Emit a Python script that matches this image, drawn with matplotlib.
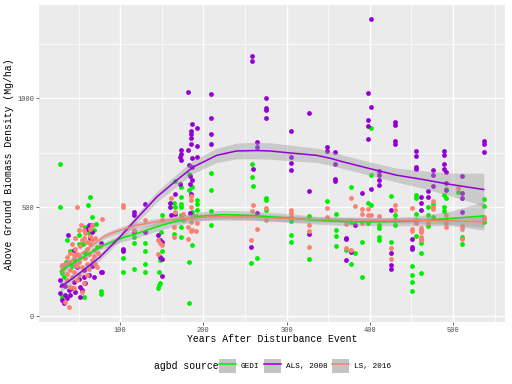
import matplotlib
matplotlib.use("Agg")
import matplotlib.pyplot as plt
from matplotlib.patches import Patch
from matplotlib.lines import Line2D
from matplotlib.legend_handler import HandlerTuple

plt.rcParams['font.family'] = ['Liberation Mono', 'DejaVu Sans Mono']

# ---- points: (years after disturbance, agbd Mg/ha) ----
gedi_pts = [
    (28,697),(28,501),(64,547),(61,512),(66,456),(71,425),(58,410),(51,371),(50,333),(72,315),
    (36,349),(30,196),(77,116),(77,101),(30,89),(56,89),(40,300),(45,260),(55,330),(62,380),
    (35,250),(42,230),(68,395),(33,180),(58,290),
    (104,269),(104,202),(117,364),(117,336),(117,215),(130,336),(130,299),(130,240),(130,202),
    (150,463),(150,299),(148,257),(147,202),(148,154),(147,142),(146,127),(149,388),
    (166,621),(173,593),(173,547),(165,517),(166,501),(173,513),(173,501),(192,535),(192,513),
    (192,486),(186,478),(173,463),(186,466),(183,651),(183,581),(186,593),(209,657),(209,581),
    (209,481),(209,417),(165,379),(173,364),(173,409),(186,328),(183,249),(183,58),
    (258,700),(258,638),(260,596),(275,543),(275,535),(275,486),(305,436),(327,460),(327,261),
    (265,268),(257,242),(305,372),(305,339),(349,527),(359,471),(359,394),(359,368),(359,324),
    (401,864),(401,647),(377,594),(426,553),(398,517),(401,511),(398,429),(430,464),(430,441),
    (377,433),(411,416),(411,406),(430,416),(371,303),(382,288),(377,237),(391,338),
    (411,364),(411,349),(426,338),(391,181),(451,231),(451,189),(451,158),(451,115),(456,556),
    (456,543),(461,288),(461,199),(456,471),(456,441),(456,369),
    (491,584),(489,555),(491,544),(476,514),(470,502),(489,499),(489,483),(476,453),(470,464),
    (470,413),(462,334),(506,571),(511,361),(511,330),(537,538),(537,505),(537,433),
]
als_pts = [
    (62,420),(66,417),(66,387),(37,371),(44,303),(77,336),(48,226),(56,211),(78,203),(28,165),
    (30,142),(44,157),(52,135),(56,180),(62,188),(69,180),(77,203),(28,104),(34,96),(40,96),
    (30,73),(36,81),(52,89),(32,58),(42,127),(60,400),(64,360),(50,170),(46,110),(38,120),
    (58,150),(66,230),(54,120),(34,140),
    (117,478),(117,463),(130,513),(117,387),(130,387),(104,310),(104,299),(146,371),(148,272),
    (150,264),(150,186),(148,350),(150,340),
    (182,1027),(209,1020),(209,911),(186,883),(192,865),(185,848),(185,835),(185,819),(209,835),
    (185,792),(192,780),(209,789),(173,761),(173,746),(172,731),(173,715),(182,761),(186,728),
    (192,731),(183,692),(186,685),(184,642),(186,627),(172,605),(184,608),(185,562),(166,562),
    (160,520),(160,501),(184,474),(166,468),(161,463),
    (258,1196),(258,1170),(275,1003),(275,956),(275,948),(275,910),(327,933),(305,850),(265,800),
    (265,774),(305,731),(305,705),(305,670),(260,673),(265,475),(327,575),(327,379),(257,318),
    (349,777),(349,758),
    (401,1363),(398,1023),(401,958),(398,900),(398,872),(398,814),(430,889),(430,878),(430,802),
    (430,789),(358,753),(358,699),(358,629),(358,620),(456,757),(456,734),(456,685),(456,675),
    (411,667),(411,650),(411,627),(411,601),(401,585),(391,566),(426,487),(382,418),(371,360),
    (371,352),(377,296),(371,257),(426,288),(426,234),(426,215),(451,352),(451,319),(451,308),
    (461,548),(461,517),(461,487),(470,574),(470,548),
    (489,759),(489,739),(489,697),(489,674),(491,661),(476,670),(476,647),(476,596),(537,804),
    (537,789),(537,754),(511,642),(511,563),(511,540),(511,479),(491,578),(491,609),
]
ls_pts = [
    (48,501),(78,445),(53,417),(64,402),(56,394),(54,349),(60,341),(66,349),(46,310),(48,287),
    (52,272),(60,310),(62,287),(68,303),(36,272),(30,234),(32,226),(40,211),(44,203),(60,241),
    (66,257),(72,226),(36,165),(40,135),(48,165),(54,112),(39,40),(34,66),(44,127),(50,188),
    (46,241),(42,330),(56,360),(64,330),(70,360),(58,265),(38,250),(50,250),(54,225),(62,215),
    (68,275),(74,290),(44,280),(52,320),(58,380),(46,360),(66,420),(36,195),(42,180),(56,150),
    (60,190),(30,210),(34,240),(70,240),(64,370),(50,395),(48,230),(40,290),(76,320),
    (104,501),(104,509),(130,440),(117,394),(150,443),(146,348),(148,336),(150,325),(146,287),
    (185,550),(161,543),(185,532),(185,501),(166,478),(173,452),(186,455),(191,458),(192,428),
    (191,391),(186,397),(165,409),(165,364),(185,432),(182,409),(185,391),(182,356),(176,470),
    (176,440),
    (260,509),(275,497),(258,482),(275,440),(305,486),(305,475),(305,456),(327,417),(327,391),
    (327,318),(265,400),(257,349),(349,498),(349,456),
    (377,543),(382,507),(391,490),(391,468),(398,490),(398,464),(401,464),(411,459),(430,510),
    (430,487),(371,423),(391,429),(371,314),(377,303),(426,312),(426,262),(451,494),(451,400),
    (451,390),(461,403),(461,387),(461,352),(456,426),
    (476,528),(476,502),(476,490),(491,464),(491,441),(470,428),(462,395),(462,364),(462,349),
    (491,428),(491,410),(506,586),(511,413),(511,402),(511,352),(537,453),(537,444),
]

# ---- smoothed fits (year, fit, half width of band) ----
gedi_fit_x = [28, 40, 56, 76, 100, 120, 144, 168, 196, 224, 256, 296, 336, 376, 416, 456, 496, 537]
gedi_fit_y = [203, 235, 272, 318, 356, 379, 410, 437, 458, 466, 462, 452, 440, 433, 433, 437, 448, 460]
gedi_fit_se = [22, 17, 14, 14, 18, 20, 20, 20, 20, 20, 20, 20, 18, 18, 18, 22, 32, 65]

als_fit_x = [28, 40, 56, 76, 100, 120, 144, 168, 188, 204, 216, 240, 264, 280, 304, 336, 352,
             368, 400, 432, 464, 496, 537]
als_fit_y = [134, 165, 211, 272, 364, 448, 547, 624, 685, 715, 738, 758, 760, 758, 749, 738, 725,
             708, 677, 647, 627, 605, 581]
als_fit_se = [25, 21, 18, 15, 17, 20, 24, 28, 30, 32, 33, 36, 38, 38, 36, 33, 32,
              31, 31, 32, 40, 52, 75]

ls_fit_x = [28, 38, 48, 64, 80, 90, 100, 120, 144, 176, 208, 256, 296, 336, 376, 416, 456, 496, 537]
ls_fit_y = [226, 248, 272, 318, 364, 381, 394, 417, 433, 448, 456, 455, 448, 443, 443, 440, 440, 437, 433]
ls_fit_se = [15, 12, 10, 10, 12, 14, 15, 15, 15, 15, 15, 15, 14, 12, 12, 12, 13, 16, 25]

SOURCES = ["GEDI", "ALS, 2008", "LS, 2016"]
COLORS = ["#00EE00", "#9400D3", "#FA8072"]

fig = plt.figure(figsize=(5.12, 3.84), dpi=100)
ax = fig.add_axes([39/512, 62/384, 466/512, 317/384])
ax.set_facecolor("#EBEBEB")
for s in ax.spines.values():
    s.set_visible(False)

ax.set_xlim(2.5, 562.5)
ax.set_ylim(-27, 1428)
ax.set_xticks([100, 200, 300, 400, 500])
ax.set_xticks([50, 150, 250, 350, 450, 550], minor=True)
ax.set_yticks([0, 500, 1000])
ax.set_yticks([250, 750, 1250], minor=True)
ax.grid(which="major", color="white", linewidth=1.0)
ax.grid(which="minor", color="white", linewidth=0.5)
ax.set_axisbelow(True)
ax.tick_params(which="major", length=2, width=0.5, color="#333333",
               labelsize=5, labelcolor="#4D4D4D", pad=1.5)
ax.tick_params(which="minor", length=0)

for pts, c in zip([gedi_pts, als_pts, ls_pts], COLORS):
    ax.scatter([p[0] for p in pts], [p[1] for p in pts], s=12, color=c,
               linewidths=0, zorder=2)

fits = [(gedi_fit_x, gedi_fit_y, gedi_fit_se),
        (als_fit_x, als_fit_y, als_fit_se),
        (ls_fit_x, ls_fit_y, ls_fit_se)]
for (fx, fy, fse), c in zip(fits, COLORS):
    lo = [y - e for y, e in zip(fy, fse)]
    hi = [y + e for y, e in zip(fy, fse)]
    ax.fill_between(fx, lo, hi, color="#999999", alpha=0.4, linewidth=0, zorder=3)
    ax.plot(fx, fy, color=c, linewidth=1.1, zorder=4, solid_joinstyle="round")

fig.text(272/512, 45/384, "Years After Disturbance Event", fontsize=7,
         ha="center", va="center")
fig.text(9/512, 220/384, "Above Ground Biomass Density (Mg/ha)", fontsize=7,
         ha="center", va="center", rotation=90)

fig.text(154/512, 18/384, "agbd source", fontsize=7, ha="left", va="center")
handles = [(Patch(facecolor="#C4C4C4", edgecolor="none"),
            Line2D([], [], color=c, linewidth=1.1)) for c in COLORS]
fig.legend(handles, SOURCES, loc="center left", bbox_to_anchor=(219/512, 18/384),
           ncol=3, frameon=False, fontsize=5.6, handlelength=2.2, handleheight=2.2,
           handletextpad=0.6, columnspacing=0.6, borderpad=0, borderaxespad=0,
           handler_map={tuple: HandlerTuple(ndivide=1)})

fig.savefig("out.png", dpi=100)
